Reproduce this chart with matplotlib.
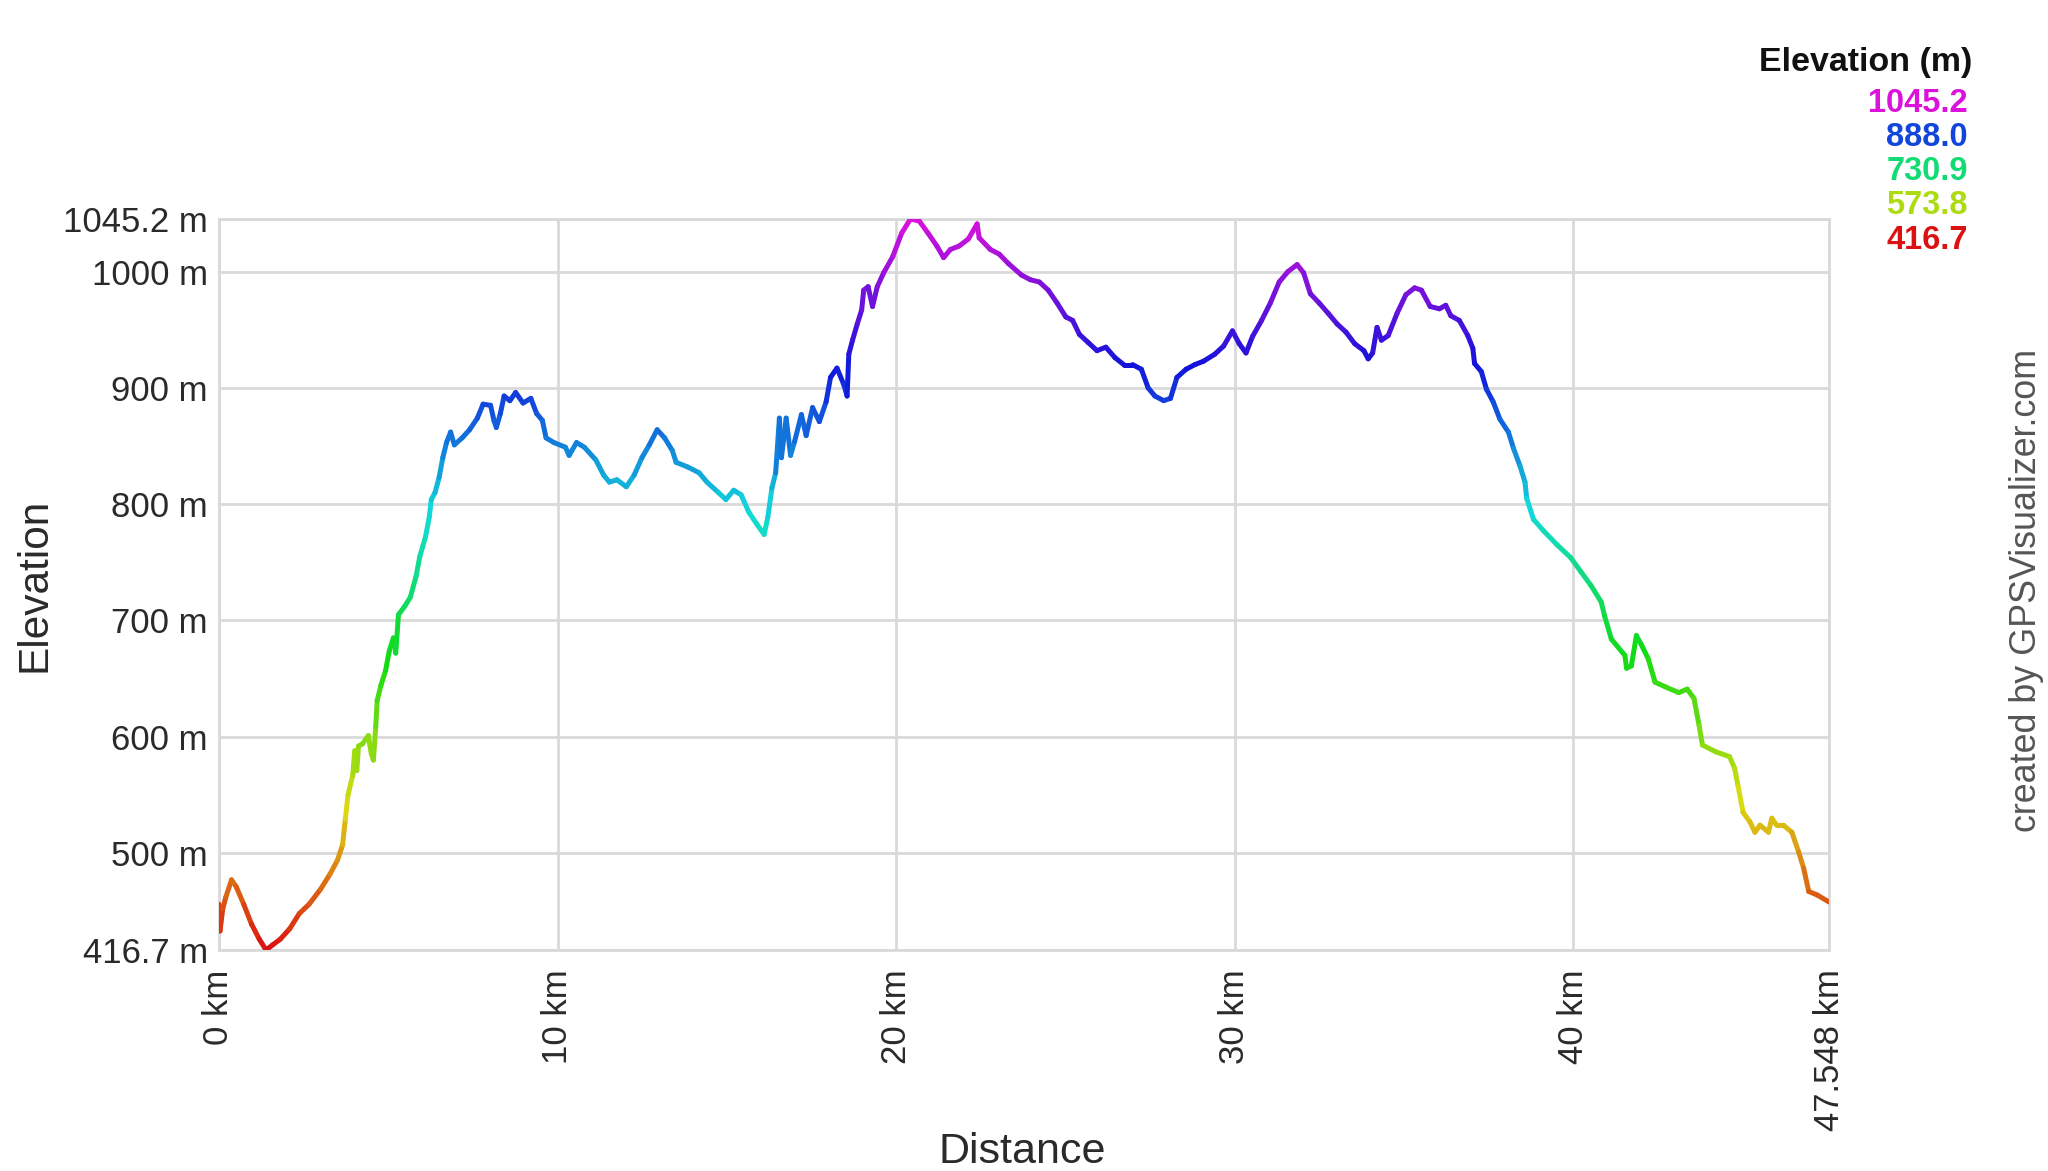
import numpy as np
import matplotlib
matplotlib.use("Agg")
import matplotlib.pyplot as plt
from matplotlib.collections import LineCollection
from matplotlib.colors import LinearSegmentedColormap, Normalize, hsv_to_rgb

plt.rcParams['font.family'] = ['Liberation Sans', 'DejaVu Sans']

# ---------------- data ----------------
distance_km = [
    0.0, 0.03, 0.11, 0.2, 0.37, 0.51, 0.73, 0.96, 1.19, 1.39, 1.58, 1.81, 2.09, 2.37, 2.66,
    3.0, 3.28, 3.5, 3.65, 3.73, 3.81, 3.95, 4.01, 4.07, 4.12, 4.24, 4.41, 4.5, 4.56, 4.63,
    4.67, 4.78, 4.92, 5.03, 5.15, 5.22, 5.3, 5.48, 5.65, 5.82, 5.93, 6.1, 6.21, 6.27, 6.38,
    6.5, 6.61, 6.72, 6.84, 6.95, 7.18, 7.4, 7.63, 7.8, 8.02, 8.12, 8.19, 8.31, 8.42, 8.59,
    8.76, 8.98, 9.21, 9.38, 9.55, 9.66, 9.89, 10.23, 10.34, 10.56, 10.79, 11.13, 11.36, 11.53,
    11.75, 12.03, 12.26, 12.49, 12.71, 12.94, 13.16, 13.39, 13.5, 13.84, 14.18, 14.41, 14.75,
    14.97, 15.2, 15.42, 15.65, 15.88, 16.1, 16.21, 16.33, 16.44, 16.55, 16.61, 16.75, 16.88,
    17.0, 17.2, 17.34, 17.53, 17.73, 17.93, 18.06, 18.25, 18.45, 18.55, 18.6, 18.71, 18.85,
    18.98, 19.04, 19.17, 19.3, 19.44, 19.63, 19.9, 20.16, 20.42, 20.68, 20.94, 21.2, 21.4,
    21.6, 21.86, 22.13, 22.39, 22.45, 22.78, 23.04, 23.31, 23.7, 23.96, 24.23, 24.49, 24.75,
    25.01, 25.21, 25.41, 25.67, 25.93, 26.19, 26.46, 26.72, 26.98, 27.24, 27.44, 27.64, 27.9,
    28.1, 28.29, 28.56, 28.82, 29.08, 29.41, 29.67, 29.93, 30.13, 30.33, 30.52, 30.79, 31.05,
    31.31, 31.57, 31.84, 32.03, 32.23, 32.49, 32.76, 33.02, 33.28, 33.54, 33.81, 33.94, 34.07,
    34.2, 34.33, 34.53, 34.79, 35.05, 35.31, 35.51, 35.77, 36.04, 36.23, 36.38, 36.63, 36.88,
    37.03, 37.08, 37.28, 37.43, 37.63, 37.83, 38.08, 38.23, 38.42, 38.57, 38.62, 38.82, 39.12,
    39.52, 39.92, 40.22, 40.52, 40.82, 40.92, 41.12, 41.52, 41.57, 41.71, 41.86, 42.01, 42.21,
    42.41, 42.71, 43.11, 43.36, 43.56, 43.71, 43.81, 44.21, 44.61, 44.76, 44.86, 45.01, 45.21,
    45.36, 45.51, 45.76, 45.86, 46.0, 46.2, 46.45, 46.65, 46.8, 46.95, 47.2, 47.548,
]
elevation_m = [
    456, 433, 452, 462, 477, 471, 456, 439, 426, 416.7, 421, 426, 435, 448, 456,
    469, 482, 494, 507, 529, 550, 567, 588, 571, 592, 594, 601, 585, 580, 609,
    631, 644, 657, 674, 685, 672, 705, 712, 720, 738, 755, 772, 789, 804, 810,
    823, 840, 853, 862, 851, 857, 864, 874, 886, 885, 872, 866, 878, 893, 889,
    896, 887, 891, 878, 872, 857, 853, 849, 842, 853, 849, 838, 825, 819,
    821, 815, 825, 840, 851, 864, 857, 846, 836, 832, 827, 819, 810,
    804, 812, 808, 793, 783, 774, 789, 814, 827, 874, 840, 874, 842,
    854, 877, 859, 883, 871, 888, 909, 917, 903, 893, 929, 941, 955,
    967, 984, 987, 970, 987, 999, 1013, 1033, 1045.2, 1043.5, 1033, 1022, 1012,
    1019, 1022, 1028, 1041, 1029, 1019, 1015, 1007, 997, 993, 991, 984, 973,
    961, 958, 946, 939, 932, 935, 926, 920, 920, 916, 900, 893, 889,
    891, 909, 916, 920, 923, 929, 936, 949, 938, 930, 944, 958, 973,
    991, 1000, 1006, 999, 981, 973, 964, 955, 948, 938, 932, 925, 930,
    952, 941, 945, 964, 980, 986, 984, 970, 968, 971, 962, 958, 945,
    934, 921, 914, 899, 888, 873, 862, 848, 833, 819, 805, 787, 777,
    765, 754, 742, 730, 716, 704, 684, 670, 659, 661, 687, 679, 667,
    647, 643, 638, 641, 633, 610, 593, 587, 583, 573, 558, 535, 527,
    518, 524, 518, 530, 524, 524, 518, 501, 487, 467, 464, 458,
]

x_ticks = [0, 10, 20, 30, 40, 47.548]
x_tick_labels = ["0 km", "10 km", "20 km", "30 km", "40 km", "47.548 km"]
y_ticks = [416.7, 500, 600, 700, 800, 900, 1000, 1045.2]
y_tick_labels = ["416.7 m", "500 m", "600 m", "700 m", "800 m", "900 m", "1000 m", "1045.2 m"]
legend_title = "Elevation (m)"
legend_levels = [1045.2, 888.0, 730.9, 573.8, 416.7]
legend_labels = ["1045.2", "888.0", "730.9", "573.8", "416.7"]

# ---------------- colour map: hue red -> magenta ----------------
hues = np.linspace(0, 300 / 360, 256)
hsv = np.stack([hues, np.full_like(hues, 0.92), np.full_like(hues, 0.86)], axis=1)
cmap = LinearSegmentedColormap.from_list("elev", hsv_to_rgb(hsv))
norm = Normalize(vmin=416.7, vmax=1045.2)

W, H = 2048, 1171
fig = plt.figure(figsize=(W / 100, H / 100), dpi=100)
fig.patch.set_facecolor("white")
ax = fig.add_axes([219 / W, 1 - 950 / H, 1610 / W, 731 / H])

x = np.array(distance_km)
y = np.array(elevation_m)
pts = np.column_stack([x, y]).reshape(-1, 1, 2)
segs = np.concatenate([pts[:-1], pts[1:]], axis=1)
mid = (y[:-1] + y[1:]) / 2
lc = LineCollection(segs, colors=cmap(norm(mid)), linewidths=3.6,
                    capstyle="round", joinstyle="round", zorder=3)
ax.add_collection(lc)

ax.set_xlim(0, 47.548)
ax.set_ylim(416.7, 1045.2)
ax.set_xticks(x_ticks)
ax.set_xticklabels(x_tick_labels, rotation=90)
ax.set_yticks(y_ticks)
ax.set_yticklabels(y_tick_labels)
ax.tick_params(axis="both", length=0, labelsize=25, labelcolor="#2a2a2a")
ax.tick_params(axis="x", pad=14)
ax.tick_params(axis="y", pad=8)
ax.grid(True, color="#d9d9d9", linewidth=2.0, zorder=0)
for s in ax.spines.values():
    s.set_color("#d9d9d9")
    s.set_linewidth(2.0)

fig.text(35 / W, 1 - 585 / H, "Elevation", rotation=90, ha="center", va="center",
         fontsize=30.5, color="#2a2a2a")
fig.text(1022 / W, 1 - 1152 / H, "Distance", ha="center", va="center",
         fontsize=31, color="#2a2a2a")
fig.text(2027 / W, 1 - 590 / H, "created by GPSVisualizer.com", rotation=90,
         ha="center", va="center", fontsize=25.8, color="#555555")

fig.text(1972 / W, 1 - 62 / H, legend_title, ha="right", va="center",
         fontsize=24.5, fontweight="bold", color="#111111")
for i, (lv, lab) in enumerate(zip(legend_levels, legend_labels)):
    fig.text(1968 / W, 1 - (103 + i * 34.3) / H, lab, ha="right", va="center",
             fontsize=23.5, fontweight="bold", color=cmap(norm(lv)))

fig.savefig("out.png", dpi=100, facecolor="white")
